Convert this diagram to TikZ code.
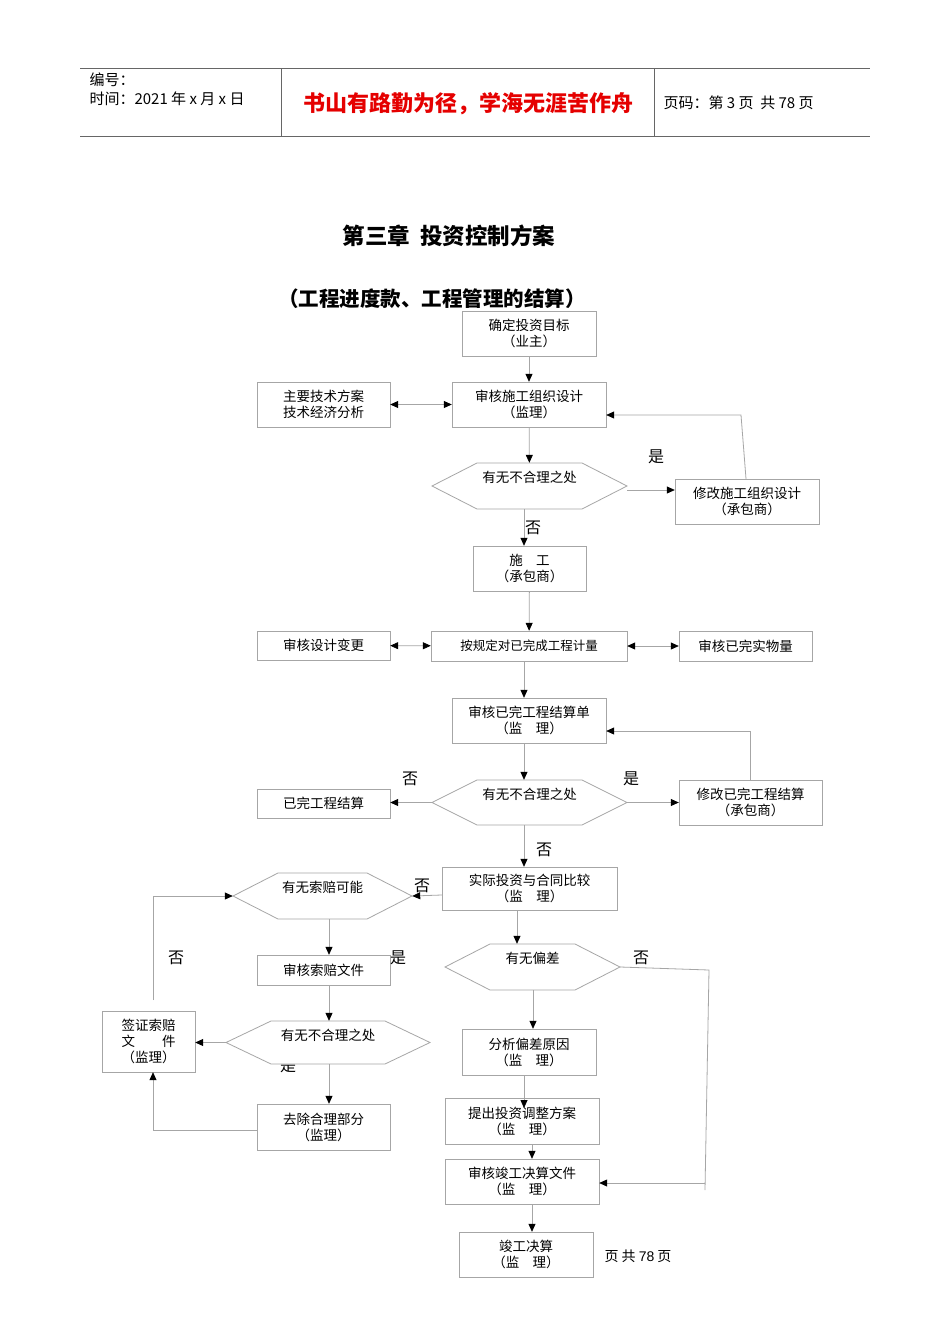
\documentclass[tikz,border=0pt]{standalone}
\usepackage{fontspec}
\setmainfont{Liberation Sans}
\newfontfamily\cjk{Noto Sans CJK SC}
\usetikzlibrary{arrows.meta}
\tikzset{
 bx/.style={draw=gray!70,inner sep=0pt,align=center,font=\cjk\fontsize{13.5}{16}\selectfont},
 hx/.style={inner sep=0pt,align=center,font=\cjk\fontsize{13.5}{16}\selectfont},
 ln/.style={draw=gray!70,line width=0.8pt},
 ar/.style={ln,-{Triangle[length=8pt,width=7pt,fill=black,color=black]}},
 dar/.style={ln,{Triangle[length=8pt,width=7pt,fill=black,color=black]}-{Triangle[length=8pt,width=7pt,fill=black,color=black]}},
 lb/.style={font=\cjk\fontsize{16}{18}\selectfont},
}
\newcommand\bxn[6]{\node[bx,minimum width={#4pt-#2pt},minimum height={#5pt-#3pt}] (#1) at ({(#2+#4)/2},{(#3+#5)/2}) {#6};}
\newcommand\hxn[6]{%
 \draw[ln,fill=white] (#2,{(#4+#5)/2}) -- ({#2+45},#4) -- ({#3-45},#4) -- (#3,{(#4+#5)/2}) -- ({#3-45},#5) -- ({#2+45},#5) -- cycle;
 \node[hx,minimum width={#3pt-#2pt},minimum height={#5pt-#4pt}] (#1) at ({(#2+#3)/2},{(#4+#5)/2}) {#6};}
\begin{document}
\begin{tikzpicture}[x=1pt,y=-1pt]
\useasboundingbox[fill=white] (0,0) rectangle (950,1344);
% header
\draw[line width=1pt,gray!80!black] (80,68) -- (870,68) (80,136) -- (870,136);
\draw[gray!80!black] (281,68) -- (281,136) (654,68) -- (654,136);
\node[anchor=west,font=\cjk\fontsize{15}{17}\selectfont] (h1) at (86,80) {编号：};
\node[anchor=west,font=\cjk\fontsize{15}{17}\selectfont] (h2) at (86,99) {时间：2021 年 x 月 x 日};
\node[font=\cjk\bfseries\fontsize{22}{25}\selectfont,text=red!90!black] (h3) at (468,104) {书山有路勤为径，学海无涯苦作舟};
\node[anchor=west,font=\cjk\fontsize{15}{17}\selectfont] (h4) at (660,103) {页码：第 3 页 \ 共 78 页};
% titles
\node[font=\cjk\bfseries\fontsize{22.5}{25}\selectfont] (t1) at (449,236) {第三章\ \ 投资控制方案};
\node[font=\cjk\bfseries\fontsize{20.5}{23}\selectfont] (t2) at (432,299) {（工程进度款、工程管理的结算）};
% boxes
\bxn{A}{462}{311}{596}{356}{确定投资目标\\（业主）}
\bxn{B}{452}{382}{606}{427}{审核施工组织设计\\（监理）}
\bxn{C}{257}{382}{390}{427}{主要技术方案\\技术经济分析}
\bxn{D}{675}{479}{819}{524}{修改施工组织设计\\（承包商）}
\bxn{E}{473}{546}{586}{591}{施\quad 工\\（承包商）}
\bxn{F}{431}{631}{627}{661}{\fontsize{12.5}{15}\selectfont 按规定对已完成工程计量}
\bxn{G}{257}{631}{390}{660}{审核设计变更}
\bxn{I}{679}{631}{812}{661}{审核已完实物量}
\bxn{J}{452}{698}{606}{743}{审核已完工程结算单\\（监\quad 理）}
\bxn{K}{257}{789}{390}{818}{已完工程结算}
\bxn{L}{679}{780}{822}{825}{修改已完工程结算\\（承包商）}
\bxn{M}{442}{867}{617}{910}{实际投资与合同比较\\（监\quad 理）}
\bxn{N}{257}{955}{390}{985}{审核索赔文件}
\bxn{O}{102}{1011}{195}{1072}{签证索赔\\文\qquad 件\\（监理）}
\bxn{P}{257}{1104}{390}{1150}{去除合理部分\\（监理）}
\bxn{Q}{462}{1029}{596}{1075}{分析偏差原因\\（监\quad 理）}
\bxn{R}{445}{1098}{599}{1144}{提出投资调整方案\\（监\quad 理）}
\bxn{S}{445}{1159}{599}{1204}{审核竣工决算文件\\（监\quad 理）}
\bxn{T}{459}{1232}{593}{1277}{竣工决算\\（监\quad 理）}
% hexagons
\node[lb] (l7) at (288,1066) {是};
\hxn{H1}{432}{627}{463}{509}{有无不合理之处\\[2pt]}
\hxn{H2}{432}{627}{780}{825}{有无不合理之处\\[2pt]}
\hxn{H3}{233}{412}{873}{919}{有无索赔可能\\[2pt]}
\hxn{H4}{445}{620}{944}{990}{有无偏差\\[2pt]}
\hxn{H5}{226}{430}{1021}{1064}{有无不合理之处\\[0pt]}
% labels
\node[lb] (l1) at (656,457) {是};
\node[lb] (l2) at (533,528) {否};
\node[lb] (l3) at (410,779) {否};
\node[lb] (l4) at (631,779) {是};
\node[lb] (l5) at (544,850) {否};
\node[lb] (l6) at (422,886) {否};
\node[lb] (l8) at (398,958) {是};
\node[lb] (l9) at (641,958) {否};
\node[lb] (l10) at (176,958) {否};
\node[font=\cjk\fontsize{14}{16}\selectfont] (ft) at (638,1256) {页\ 共\ \textrm{78}\ 页};
% connectors
\draw[ar] (A) -- (B);
\draw[dar] (C) -- (B);
\draw[ar] (B) -- (H1);
\draw[ar] (627,490) -- (D.west |- 0,490);
\draw[ar] (D.north -| 746,0) -- (741,415) -- (B.east |- 0,415);
\draw[ar] (H1.south -| 524,0) -- (E.north -| 524,0);
\draw[ar] (E) -- (F);
\draw[dar] (G) -- (F);
\draw[dar] (F) -- (I);
\draw[ar] (F.south -| 524,0) -- (J.north -| 524,0);
\draw[ar] (J.south -| 524,0) -- (H2.north -| 524,0);
\draw[ar] (H2.west) -- (K.east |- H2.west);
\draw[ar] (H2.east) -- (L.west |- H2.east);
\draw[ar] (L.north -| 750,0) -- (750,731) -- (J.east |- 0,731);
\draw[ar] (H2.south -| 524,0) -- (M.north -| 524,0);
\draw[ar] (M.west |- 0,895) -- (H3.east);
\draw[ar] (H3.south -| 329,0) -- (N.north -| 329,0);
\draw[ar] (N.south -| 329,0) -- (H5.north -| 329,0);
\draw[ar] (H5.west) -- (O.east |- H5.west);
\draw[ar] (H5.south -| 329,0) -- (P.north -| 329,0);
\draw[ar] (P.west |- 0,1130) -- (153,1130) -- (O.south -| 153,0);
\draw[ar] (153,1000) -- (153,896) -- (H3.west);
\draw[ar] (M.south -| 517,0) -- (H4.north -| 517,0);
\draw[ar] (H4.south -| 533,0) -- (Q.north -| 533,0);
\draw[ar] (Q.south -| 524,0) -- (524,1108);
\draw[ar] (R.south -| 532,0) -- (S.north -| 532,0);
\draw[ln] (H4.east) -- (709,970) -- (705,1190);
\draw[ar] (705,1183) -- (S.east |- 0,1183);
\draw[ar] (S.south -| 532,0) -- (T.north -| 532,0);
\end{tikzpicture}
\end{document}
